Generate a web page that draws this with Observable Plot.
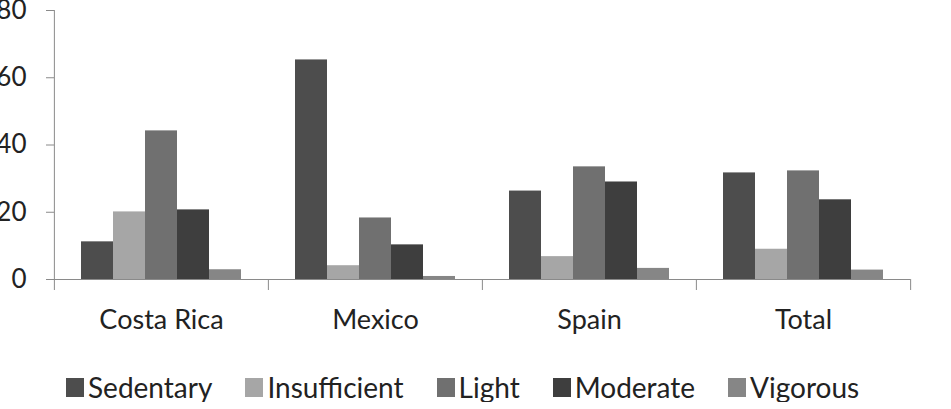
<!DOCTYPE html>
<html>
<head>
<meta charset="utf-8">
<script src="https://cdn.jsdelivr.net/npm/d3@7"></script>
<script src="https://cdn.jsdelivr.net/npm/@observablehq/plot@0.6"></script>
<style>
  html, body { margin: 0; padding: 0; background: #fff; }
  #chart { width: 951px; font-family: Lato, "Open Sans", sans-serif; }
  .legend { display: flex; align-items: center; height: 30px; padding-left: 66px; font-size: 28px; line-height: 30px; color: #222; }
  .legend .item { display: flex; align-items: center; margin-right: 33px; }
  .legend .sw { width: 18px; height: 19px; margin-right: 4px; }
</style>
</head>
<body>
<div id="chart"></div>
<script>
const categories = ["Costa Rica", "Mexico", "Spain", "Total"];
const series = ["Sedentary", "Insufficient", "Light", "Moderate", "Vigorous"];
const sedentary = [11.2, 65.3, 26.3, 31.7];
const insufficient = [20.1, 4.1, 6.8, 9.0];
const light = [44.2, 18.3, 33.5, 32.3];
const moderate = [20.7, 10.3, 29.0, 23.7];
const vigorous = [2.9, 0.9, 3.3, 2.8];
const seriesColors = ["#4d4d4d", "#a6a6a6", "#707070", "#3e3e3e", "#868686"];
const yTicks = [0, 20, 40, 60, 80];

const valuesBySeries = [sedentary, insufficient, light, moderate, vigorous];
const data = [];
categories.forEach((c, i) => {
  series.forEach((s, j) => data.push({category: c, series: s, value: valuesBySeries[j][i]}));
});

const width = 951, height = 372;
const marginLeft = 53, marginRight = 41, marginTop = 10, marginBottom = 93;
const facetW = (width - marginLeft - marginRight) / categories.length;
const axisColor = "#8a8a8a";
const fontSize = 27;

const plot = Plot.plot({
  width, height, marginLeft, marginRight, marginTop, marginBottom,
  style: {fontFamily: "Lato, 'Open Sans', sans-serif", fontSize: fontSize + "px", background: "#fff"},
  fx: {domain: categories, padding: 0, label: null},
  x: {domain: series, paddingInner: 0, paddingOuter: 0.8, axis: null},
  y: {domain: [0, 80], label: null},
  color: {domain: series, range: seriesColors},
  marks: [
    Plot.barY(data, {fx: "category", x: "series", y: "value", fill: "series", inset: 0}),
    Plot.ruleY([0], {stroke: axisColor}),
    // left boundary ticks per category (the first one is the y-axis line)
    Plot.ruleX(categories, {
      x: null, fx: d => d, y1: d => d === categories[0] ? 80 : 0, y2: 0,
      dx: -facetW / 2, insetBottom: -11, stroke: axisColor
    }),
    // right end tick
    Plot.ruleX([categories[categories.length - 1]], {
      x: null, fx: d => d, y1: 0, y2: 0, dx: facetW / 2, insetBottom: -11, stroke: axisColor
    }),
    Plot.axisY({ticks: yTicks, tickSize: 8, tickPadding: 20, fontSize: 26, color: "#222", stroke: axisColor, label: null}),
    Plot.axisFx({anchor: "bottom", tickSize: 0, tickPadding: 30, fontSize: fontSize, color: "#222", label: null})
  ]
});

const chart = document.getElementById("chart");
plot.style.display = "block";
chart.appendChild(plot);

const legend = document.createElement("div");
legend.className = "legend";
series.forEach((s, j) => {
  const item = document.createElement("div");
  item.className = "item";
  const sw = document.createElement("span");
  sw.className = "sw";
  sw.style.background = seriesColors[j];
  const label = document.createElement("span");
  label.textContent = s;
  item.appendChild(sw);
  item.appendChild(label);
  legend.appendChild(item);
});
chart.appendChild(legend);
</script>
</body>
</html>
